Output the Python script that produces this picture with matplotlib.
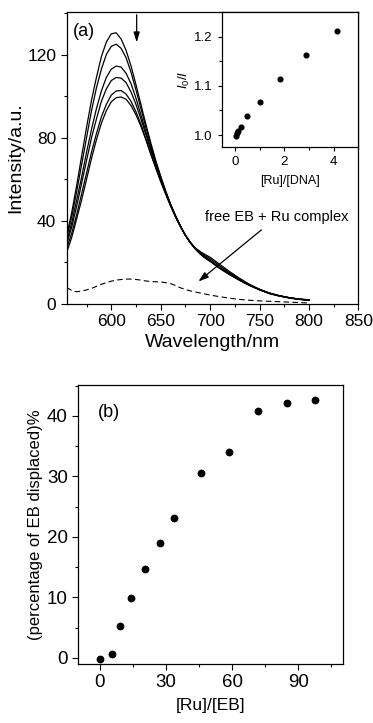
import numpy as np
import matplotlib
matplotlib.use('Agg')
import matplotlib.pyplot as plt
from matplotlib.ticker import MultipleLocator

plt.rcParams['font.family'] = ['Liberation Sans', 'DejaVu Sans']
plt.rcParams['mathtext.fontset'] = 'custom'
plt.rcParams['mathtext.it'] = 'Liberation Sans:italic'
plt.rcParams['mathtext.rm'] = 'Liberation Sans'

# (a) emission spectra
wavelength = [555, 560, 565, 570, 575, 580, 585, 590, 595, 600, 605, 610, 615, 620, 625,
              630, 635, 640, 645, 650, 655, 660, 665, 670, 675, 680, 685, 690, 695, 700,
              710, 720, 730, 740, 750, 760, 770, 780, 790, 800]

spec_1 = [33, 44, 57, 71, 85, 98, 109, 119, 126, 130, 130.5, 127.5, 122, 114.5, 105.5,
          96, 86.5, 77.5, 69, 61.5, 54.5, 48, 42.5, 37.5, 33, 29.5, 26.5, 24, 22, 20.5,
          17, 14, 11.3, 8.8, 6.8, 5, 3.8, 2.9, 2.2, 1.8]
spec_2 = [32, 42, 54, 67, 80, 93, 104, 113, 120, 124, 125, 123, 118.5, 111.5, 103,
          94, 85, 76.5, 68.5, 61, 54, 47.8, 42.3, 37.5, 33, 29.5, 26.5, 24.2, 22.3, 20.7,
          17.2, 14.2, 11.5, 9, 6.9, 5.1, 3.9, 3, 2.3, 1.9]
spec_3 = [30, 39, 50, 61, 73, 84, 94, 102.5, 109, 113, 114.5, 114, 111, 106, 99,
          91, 83, 75, 67.5, 60.5, 54, 48, 42.5, 37.5, 33, 29.5, 26.8, 24.8, 23.2, 21.8,
          18.3, 15, 12, 9.3, 7, 5.2, 4, 3, 2.4, 2]
spec_4 = [29, 37, 47, 58, 69, 80, 89, 97.5, 103.5, 107.5, 109, 108.7, 106.5, 102, 96,
          89, 81.5, 74, 67, 60, 53.5, 47.5, 42, 37.2, 33, 29.5, 26.5, 24.2, 22.4, 20.8,
          17.3, 14.3, 11.5, 9, 6.9, 5.1, 3.9, 3, 2.3, 1.9]
spec_5 = [27, 34, 43, 53, 63, 73, 82, 90, 96, 100.5, 102.5, 102.7, 101, 97.5, 92.5,
          86.5, 79.5, 72.5, 65.5, 59, 53, 47.2, 42, 37.2, 33, 29.6, 27, 25.2, 23.8, 22.5,
          19, 15.5, 12.3, 9.4, 7.1, 5.3, 4, 3.1, 2.4, 2]
spec_6 = [25, 32, 41, 50, 60, 70, 79, 87, 93, 97.3, 99.3, 99.6, 98.5, 95.5, 91,
          85.5, 79, 72, 65.5, 59, 53, 47.3, 42, 37.3, 33.2, 29.7, 26.8, 24.5, 22.7, 21,
          17.5, 14.4, 11.6, 9.1, 7, 5.2, 4, 3, 2.3, 1.9]
spectra = [spec_1, spec_2, spec_3, spec_4, spec_5, spec_6]

free_eb = [8, 6.5, 5.9, 6.2, 6.8, 7.5, 8.5, 9.5, 10.3, 11, 11.5, 11.8, 12, 12, 11.8,
           11.5, 11.1, 10.8, 10.7, 10.6, 10.3, 9.8, 8.9, 7.8, 7, 6.3, 5.8, 5.3, 4.8, 4.3,
           3.5, 2.8, 2.2, 1.8, 1.5, 1.3, 1.1, 0.9, 0.7, 0.5]

# inset: I0/I vs [Ru]/[DNA]
ru_dna = [0.03, 0.1, 0.14, 0.25, 0.5, 1.02, 1.81, 2.86, 4.12]
i0_i = [0.999, 1.005, 1.008, 1.016, 1.039, 1.068, 1.113, 1.163, 1.212]

# (b) percentage of EB displaced
ru_eb = [0, 5.3, 9.1, 14.2, 20.6, 27.1, 33.4, 46.1, 58.8, 71.9, 84.7, 97.6]
displaced = [-0.1, 0.7, 5.3, 9.9, 14.7, 19.0, 23.1, 30.5, 34.1, 40.8, 42.1, 42.6]


def style_ticks(ax, size, major_len=4, minor_len=2.5):
    ax.tick_params(which='both', direction='out', top=False, right=False, width=0.8)
    ax.tick_params(which='major', length=major_len, labelsize=size)
    ax.tick_params(which='minor', length=minor_len)
    for s in ax.spines.values():
        s.set_linewidth(0.9)


fig = plt.figure(figsize=(3.73, 7.23), dpi=100)

# panel (a)
ax1 = fig.add_axes([0.179, 0.5795, 0.782, 0.4039])
for s in spectra:
    ax1.plot(wavelength, s, color='k', lw=0.9)
ax1.plot(wavelength, free_eb, color='k', lw=0.8, ls=(0, (5, 3)))
ax1.set_xlim(555, 850)
ax1.set_ylim(0, 140.5)
ax1.xaxis.set_major_locator(MultipleLocator(50))
ax1.xaxis.set_minor_locator(MultipleLocator(25))
ax1.yaxis.set_major_locator(MultipleLocator(40))
ax1.yaxis.set_minor_locator(MultipleLocator(20))
style_ticks(ax1, 12.5)
ax1.set_xlabel('Wavelength/nm', fontsize=14, labelpad=3)
ax1.set_ylabel('Intensity/a.u.', fontsize=14, labelpad=2)
ax1.text(561, 131, '(a)', fontsize=13, va='center', ha='left')
ax1.annotate('', xy=(625.7, 124.5), xytext=(625.7, 140.5),
             arrowprops=dict(arrowstyle='-|>,head_length=0.6,head_width=0.18', color='k', lw=0.9))
ax1.text(767, 42, 'free EB + Ru complex', fontsize=10.5, ha='center', va='center')
ax1.annotate('', xy=(686, 10), xytext=(754, 36.5),
             arrowprops=dict(arrowstyle='-|>,head_length=0.6,head_width=0.2', color='k', lw=0.9))

# inset
axin = fig.add_axes([0.595, 0.7961, 0.366, 0.1873])
axin.plot(ru_dna, i0_i, 'o', color='k', ms=3.4)
axin.set_xlim(-0.52, 5)
axin.set_ylim(0.975, 1.25)
axin.xaxis.set_major_locator(MultipleLocator(2))
axin.xaxis.set_minor_locator(MultipleLocator(1))
axin.yaxis.set_major_locator(MultipleLocator(0.1))
axin.yaxis.set_minor_locator(MultipleLocator(0.05))
style_ticks(axin, 9.5, 3, 2)
axin.set_xlabel('[Ru]/[DNA]', fontsize=9, labelpad=5)
axin.set_ylabel('$I_0/I$', fontsize=9.5, labelpad=2)

# panel (b)
ax2 = fig.add_axes([0.210, 0.0816, 0.710, 0.3859])
ax2.plot(ru_eb, displaced, 'o', color='k', ms=4.6)
ax2.set_xlim(-9.8, 110.4)
ax2.set_ylim(-1, 45.1)
ax2.xaxis.set_major_locator(MultipleLocator(30))
ax2.xaxis.set_minor_locator(MultipleLocator(15))
ax2.yaxis.set_major_locator(MultipleLocator(10))
ax2.yaxis.set_minor_locator(MultipleLocator(5))
style_ticks(ax2, 13.5)
ax2.set_xlabel('[Ru]/[EB]', fontsize=12.5, labelpad=5)
ax2.set_ylabel('(percentage of EB displaced)%', fontsize=12, labelpad=3)
ax2.text(-1, 40.5, '(b)', fontsize=13, va='center', ha='left')

plt.savefig('out.png', dpi=100)
plt.close()
